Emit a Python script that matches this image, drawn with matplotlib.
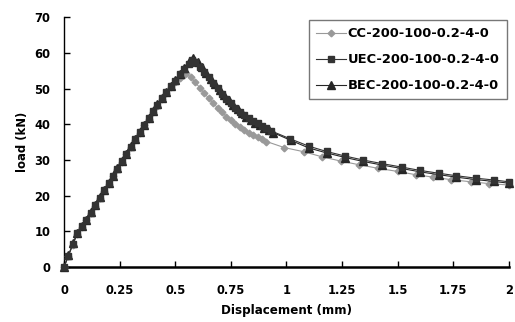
import matplotlib
matplotlib.use("Agg")
import matplotlib.pyplot as plt

plt.rcParams['font.family'] = ['DejaVu Sans']
plt.rcParams['font.weight'] = 'bold'

# ---- data ----
x_cc = [0.00, 0.02, 0.04, 0.06, 0.08, 0.10, 0.12, 0.14, 0.16, 0.18, 0.20, 0.22, 0.24, 0.26,
        0.28, 0.30, 0.32, 0.34, 0.36, 0.38, 0.40, 0.42, 0.44, 0.46, 0.48, 0.50, 0.52, 0.54,
        0.55, 0.57, 0.59, 0.61, 0.63, 0.65, 0.67, 0.69, 0.71, 0.73, 0.75, 0.77, 0.79, 0.81,
        0.83, 0.85, 0.87, 0.89, 0.91, 0.99, 1.08, 1.16, 1.245, 1.325, 1.41, 1.50, 1.58,
        1.66, 1.74, 1.83, 1.91, 2.00]
y_cc = [0.0, 3.1, 6.3, 9.3, 11.3, 13.1, 15.1, 17.2, 19.3, 21.4, 23.4, 25.4, 27.5, 29.5,
        31.6, 33.7, 35.7, 37.7, 39.7, 41.6, 43.5, 45.3, 47.1, 48.8, 50.4, 51.9, 53.0, 53.9,
        54.3, 53.2, 51.8, 50.3, 48.8, 47.4, 46.0, 44.7, 43.4, 42.2, 41.1, 40.1, 39.2, 38.4,
        37.7, 37.0, 36.4, 35.8, 35.2, 33.5, 32.3, 30.9, 29.7, 28.7, 27.7, 26.8, 25.9,
        25.2, 24.5, 23.9, 23.4, 23.0]

x_uec = [0.00, 0.02, 0.04, 0.06, 0.08, 0.10, 0.12, 0.14, 0.16, 0.18, 0.20, 0.22, 0.24, 0.26,
         0.28, 0.30, 0.32, 0.34, 0.36, 0.38, 0.40, 0.42, 0.44, 0.46, 0.48, 0.50, 0.52, 0.54,
         0.56, 0.575, 0.59, 0.61, 0.63, 0.65, 0.67, 0.69, 0.71, 0.73, 0.75, 0.77, 0.79, 0.81,
         0.83, 0.85, 0.87, 0.89, 0.91, 0.93, 1.015, 1.10, 1.18, 1.265, 1.345, 1.43, 1.52,
         1.60, 1.684, 1.764, 1.853, 1.933, 2.00]
y_uec = [0.0, 3.2, 6.5, 9.5, 11.5, 13.2, 15.2, 17.3, 19.4, 21.5, 23.5, 25.5, 27.6, 29.6,
         31.7, 33.8, 35.8, 37.8, 39.8, 41.8, 43.7, 45.5, 47.3, 49.0, 50.7, 52.3, 54.0, 55.6,
         57.0, 58.2, 57.6, 56.2, 54.7, 53.2, 51.6, 50.1, 48.6, 47.2, 45.9, 44.7, 43.6, 42.6,
         41.8, 41.0, 40.3, 39.6, 38.9, 38.2, 36.0, 33.9, 32.4, 31.1, 30.0, 29.0, 28.0,
         27.1, 26.3, 25.6, 24.9, 24.4, 23.9]

x_bec = [0.00, 0.02, 0.04, 0.06, 0.08, 0.10, 0.12, 0.14, 0.16, 0.18, 0.20, 0.22, 0.24, 0.26,
         0.28, 0.30, 0.32, 0.34, 0.36, 0.38, 0.40, 0.42, 0.44, 0.46, 0.48, 0.50, 0.52, 0.54,
         0.56, 0.58, 0.60, 0.62, 0.64, 0.66, 0.68, 0.70, 0.72, 0.74, 0.76, 0.78, 0.80, 0.82,
         0.84, 0.86, 0.88, 0.90, 0.92, 0.94, 1.02, 1.10, 1.18, 1.265, 1.345, 1.43, 1.52,
         1.60, 1.684, 1.764, 1.853, 1.933, 2.00]
y_bec = [0.0, 3.3, 6.6, 9.4, 11.4, 13.3, 15.3, 17.4, 19.5, 21.6, 23.6, 25.6, 27.7, 29.7,
         31.8, 33.9, 35.9, 37.9, 39.9, 41.9, 43.8, 45.6, 47.4, 49.2, 50.9, 52.5, 54.2, 55.9,
         57.5, 58.6, 57.6, 56.0, 54.4, 52.8, 51.2, 49.7, 48.2, 46.8, 45.5, 44.3, 43.2, 42.2,
         41.3, 40.5, 39.8, 39.1, 38.4, 37.7, 35.5, 33.4, 32.0, 30.7, 29.6, 28.6, 27.6,
         26.7, 25.9, 25.2, 24.5, 24.0, 23.5]

labels = ['CC-200-100-0.2-4-0', 'UEC-200-100-0.2-4-0', 'BEC-200-100-0.2-4-0']
x_ticks = [0, 0.25, 0.5, 0.75, 1, 1.25, 1.5, 1.75, 2]
x_tick_labels = ['0', '0.25', '0.5', '0.75', '1', '1.25', '1.5', '1.75', '2']
y_ticks = [0, 10, 20, 30, 40, 50, 60, 70]

# ---- figure ----
fig = plt.figure(figsize=(5.15, 3.22), dpi=100)
ax = fig.add_axes([0.1243, 0.1708, 0.8640, 0.7750])

l_cc, = ax.plot(x_cc, y_cc, color='#999999', lw=0.8, marker='D', ms=3.4,
                mfc='#999999', mec='#999999', clip_on=False, zorder=3, label=labels[0])
l_bec, = ax.plot(x_bec, y_bec, color='#262626', lw=0.8, marker='^', ms=5.8,
                 mfc='#262626', mec='#262626', clip_on=False, zorder=4, label=labels[2])
l_uec, = ax.plot(x_uec, y_uec, color='#333333', lw=0.8, marker='s', ms=5.0,
                 mfc='#333333', mec='#333333', clip_on=False, zorder=5, label=labels[1])

ax.set_xlim(0, 2)
ax.set_ylim(0, 70)
ax.set_xticks(x_ticks)
ax.set_xticklabels(x_tick_labels)
ax.set_yticks(y_ticks)

for s in ['top', 'right']:
    ax.spines[s].set_visible(False)
ax.spines['left'].set_linewidth(1.0)
ax.spines['bottom'].set_linewidth(1.8)
ax.spines['left'].set_color('black')
ax.spines['bottom'].set_color('black')

ax.tick_params(axis='x', direction='in', length=4, width=1, pad=12, labelsize=8.3)
ax.tick_params(axis='y', direction='in', length=4, width=1, pad=10, labelsize=8.3)
for t in ax.get_xticklabels() + ax.get_yticklabels():
    t.set_fontweight('bold')

ax.set_xlabel('Displacement (mm)', fontsize=8.6, fontweight='bold', labelpad=5)
ax.set_ylabel('load (kN)', fontsize=8.4, fontweight='bold', labelpad=4)

leg = ax.legend(handles=[l_cc, l_uec, l_bec], loc='upper right',
                bbox_to_anchor=(0.995, 0.99), borderaxespad=0,
                prop={'weight': 'bold', 'size': 9.4},
                handlelength=2.3, handletextpad=0.15, labelspacing=1.0,
                borderpad=0.55, frameon=True, fancybox=False)
leg.get_frame().set_edgecolor('#555555')
leg.get_frame().set_linewidth(1.0)

fig.savefig('out.png', dpi=100)
